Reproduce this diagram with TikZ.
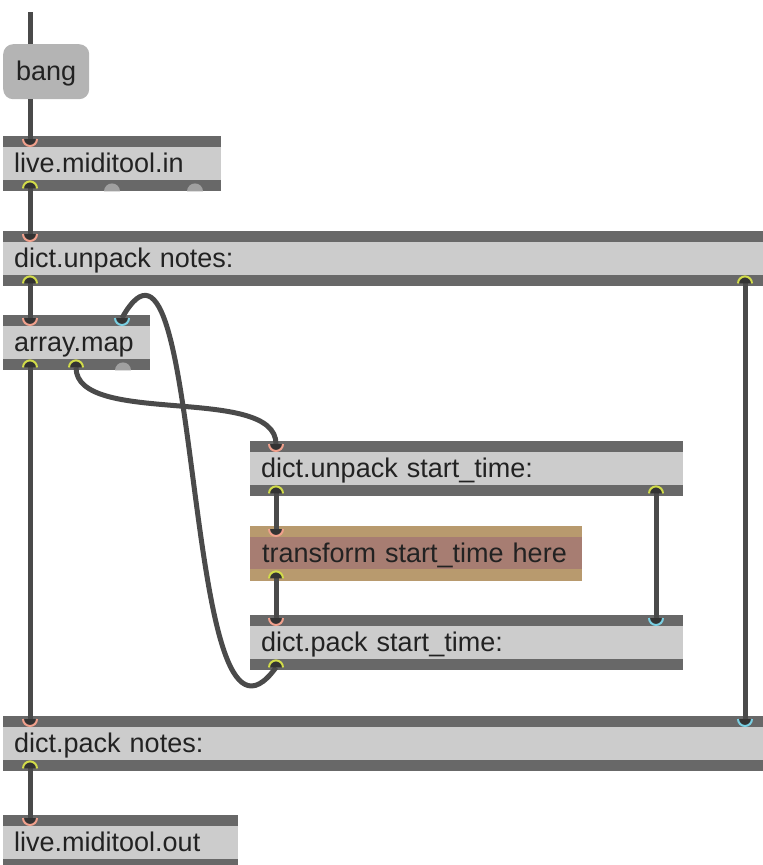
\documentclass[tikz,border=0pt]{standalone}
\usepackage{fontspec}
\setmainfont{Liberation Sans}
\definecolor{barc}{HTML}{686868}
\definecolor{boxc}{HTML}{CCCCCC}
\definecolor{cordc}{HTML}{4A4A4A}
\definecolor{portdark}{HTML}{333333}
\definecolor{inc}{HTML}{F0A08C}
\definecolor{outc}{HTML}{D2DC4A}
\definecolor{cyanc}{HTML}{7ACFE2}
\definecolor{greyport}{HTML}{A0A0A0}
\definecolor{tanc}{HTML}{B89A6E}
\definecolor{rosec}{HTML}{A77D72}
\definecolor{bangc}{HTML}{B4B4B4}
\definecolor{txtc}{HTML}{222222}
\newcommand\inport[2]{\fill[portdark] ([xshift=-7pt]#1) arc(180:360:7pt) -- cycle;
  \draw[#2, line width=2pt] ([xshift=-7pt]#1) arc(180:360:7pt);}
\newcommand\outport[2]{\fill[portdark] ([xshift=-7pt]#1) arc(180:0:7pt) -- cycle;
  \draw[#2, line width=2pt] ([xshift=-7pt]#1) arc(180:0:7pt);}
\newcommand\greyport[1]{\fill[greyport] ([xshift=-8pt]#1) arc(180:0:8pt) -- cycle;}
\begin{document}
\begin{tikzpicture}[x=1pt,y=1pt,
  txt/.style={font=\fontsize{27}{30}\selectfont, text=txtc, text height=20pt, text depth=3pt},
  maxobj/.style={txt, rectangle, anchor=north west, fill=boxc, inner ysep=0pt, inner xsep=11pt,
    minimum height=55pt, align=left,
    path picture={\fill[barc] (path picture bounding box.north west) rectangle ([yshift=-11pt]path picture bounding box.north east);
      \fill[barc] (path picture bounding box.south west) rectangle ([yshift=11pt]path picture bounding box.south east);}},
  tranobj/.style={txt, rectangle, anchor=north west, fill=tanc, inner ysep=0pt, inner xsep=12pt,
    minimum height=55pt, align=left,
    path picture={\fill[rosec] ([yshift=-11pt]path picture bounding box.north west) rectangle ([yshift=12pt]path picture bounding box.south east);}},
  bangobj/.style={txt, rectangle, anchor=north west, fill=bangc, rounded corners=10pt, inner sep=0pt,
    minimum width=86pt, minimum height=55pt},
  cord/.style={draw=cordc, line width=5pt}]
\useasboundingbox (0,0) rectangle (763,-865);

% boxes
\node[bangobj] (bang) at (3,-44) {bang};
\node[maxobj, text width=196pt] (min) at (3,-136) {live.miditool.in};
\node[maxobj, text width=741pt] (dun) at (3,-231) {dict.unpack notes:};
\node[maxobj, text width=125pt] (am) at (3,-315) {array.map};
\node[maxobj, text width=411pt] (dus) at (250,-441) {dict.unpack start\_time:};
\node[tranobj, text width=308pt] (tr) at (250,-526) {transform start\_time here};
\node[maxobj, text width=411pt] (dps) at (250,-615) {dict.pack start\_time:};
\node[maxobj, text width=741pt] (dpn) at (3,-716) {dict.pack notes:};
\node[maxobj, text width=213pt] (mout) at (3,-815) {live.miditool.out};

% ports
\coordinate (src) at (30,-12);
\coordinate (bang-i) at ([xshift=27pt]bang.north west);
\coordinate (bang-o) at ([xshift=27pt]bang.south west);
\coordinate (min-i1) at ([xshift=27pt,yshift=-3pt]min.north west);
\coordinate (min-o1) at ([xshift=27pt,yshift=3pt]min.south west);
\coordinate (min-o2) at ([xshift=109pt]min.south west);
\coordinate (min-o3) at ([xshift=192pt]min.south west);
\coordinate (dun-i1) at ([xshift=27pt,yshift=-3pt]dun.north west);
\coordinate (dun-o1) at ([xshift=27pt,yshift=3pt]dun.south west);
\coordinate (dun-o2) at ([xshift=742pt,yshift=3pt]dun.south west);
\coordinate (am-i1) at ([xshift=27pt,yshift=-3pt]am.north west);
\coordinate (am-i2) at ([xshift=119pt,yshift=-3pt]am.north west);
\coordinate (am-o1) at ([xshift=27pt,yshift=3pt]am.south west);
\coordinate (am-o2) at ([xshift=73pt,yshift=3pt]am.south west);
\coordinate (am-o3) at ([xshift=120pt]am.south west);
\coordinate (dus-i1) at ([xshift=26pt,yshift=-3pt]dus.north west);
\coordinate (dus-o1) at ([xshift=26pt,yshift=3pt]dus.south west);
\coordinate (dus-o2) at ([xshift=406pt,yshift=3pt]dus.south west);
\coordinate (tr-i1) at ([xshift=26pt,yshift=-3pt]tr.north west);
\coordinate (tr-o1) at ([xshift=26pt,yshift=3pt]tr.south west);
\coordinate (dps-i1) at ([xshift=26pt,yshift=-3pt]dps.north west);
\coordinate (dps-i2) at ([xshift=406pt,yshift=-3pt]dps.north west);
\coordinate (dps-o1) at ([xshift=26pt,yshift=3pt]dps.south west);
\coordinate (dpn-i1) at ([xshift=27pt,yshift=-3pt]dpn.north west);
\coordinate (dpn-i2) at ([xshift=742pt,yshift=-3pt]dpn.north west);
\coordinate (dpn-o1) at ([xshift=27pt,yshift=3pt]dpn.south west);
\coordinate (mout-i1) at ([xshift=27pt,yshift=-3pt]mout.north west);

% cords
\draw[cord] (src) -- (bang-i);
\draw[cord] (bang-o) -- (min-i1);
\draw[cord] (min-o1) -- (dun-i1);
\draw[cord] (dun-o1) -- (am-i1);
\draw[cord] (dun-o2) -- (dpn-i2);
\draw[cord] (am-o1) -- (dpn-i1);
\draw[cord] (am-o2) .. controls +(0,-60) and +(0,60) .. (dus-i1);
\draw[cord] (dus-o1) -- (tr-i1);
\draw[cord] (tr-o1) -- (dps-i1);
\draw[cord] (dus-o2) -- (dps-i2);
\draw[cord] (dps-o1) .. controls +(-96,-133) and +(83,148) .. (am-i2);
\draw[cord] (dpn-o1) -- (mout-i1);

% port markers
\inport{min-i1}{inc}
\outport{min-o1}{outc}
\greyport{min-o2}
\greyport{min-o3}
\inport{dun-i1}{inc}
\outport{dun-o1}{outc}
\outport{dun-o2}{outc}
\inport{am-i1}{inc}
\inport{am-i2}{cyanc}
\outport{am-o1}{outc}
\outport{am-o2}{outc}
\greyport{am-o3}
\inport{dus-i1}{inc}
\outport{dus-o1}{outc}
\outport{dus-o2}{outc}
\inport{tr-i1}{inc}
\outport{tr-o1}{outc}
\inport{dps-i1}{inc}
\inport{dps-i2}{cyanc}
\outport{dps-o1}{outc}
\inport{dpn-i1}{inc}
\inport{dpn-i2}{cyanc}
\outport{dpn-o1}{outc}
\inport{mout-i1}{inc}
\end{tikzpicture}
\end{document}
